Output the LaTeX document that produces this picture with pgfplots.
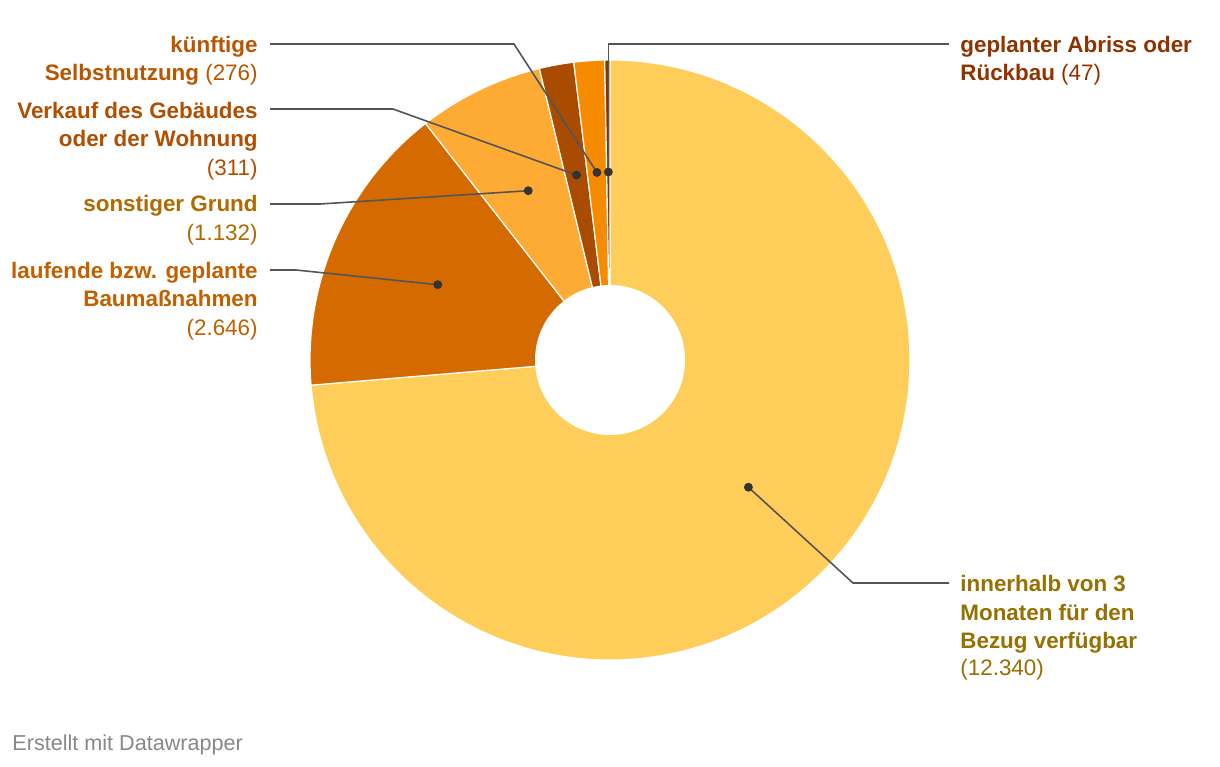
\documentclass[border=0pt]{standalone}
\usepackage{fontspec}
\setmainfont{Liberation Sans}
\usepackage{pgfplots}
\usepackage{pgfplotstable}
\pgfplotsset{compat=1.18}

% slice colours (clockwise from 12 o'clock)
\definecolor{sl0}{HTML}{FECD5A}
\definecolor{sl1}{HTML}{D46A00}
\definecolor{sl2}{HTML}{FDAB35}
\definecolor{sl3}{HTML}{A94B00}
\definecolor{sl4}{HTML}{F78B00}
\definecolor{sl5}{HTML}{8B3200}
% label colours
\definecolor{lbA}{HTML}{967000}
\definecolor{lbB}{HTML}{C26000}
\definecolor{lbC}{HTML}{AF6A00}
\definecolor{lbD}{HTML}{B14E00}
\definecolor{lbE}{HTML}{B85600}
\definecolor{lbF}{HTML}{8E3300}
\definecolor{leadgray}{HTML}{555555}
\definecolor{dotgray}{HTML}{333333}
\definecolor{footgray}{HTML}{888888}

\tikzset{
  leader/.style={draw=leadgray, line width=0.8pt},
  lab/.style={inner sep=0pt, font=\fontsize{11.2}{13.5}\selectfont\bfseries},
}

\pgfplotstableread{
value
12340
2646
1132
311
276
47
}\piedata

\newcommand\num{\mdseries}

\begin{document}
\begin{tikzpicture}
\pgfplotstablegetrowsof{\piedata}
\pgfmathtruncatemacro\nrows{\pgfplotsretval-1}
\def\total{0}
\pgfplotsforeachungrouped \i in {0,...,\nrows}{%
  \pgfplotstablegetelem{\i}{value}\of\piedata
  \edef\total{\fpeval{\total+\pgfplotsretval}}%
}
\begin{axis}[
    width=610pt, height=383pt, scale only axis,
    xmin=0, xmax=1220, ymin=0, ymax=766,
    y dir=reverse,
    hide axis, clip=false,
]
\path (axis cs:0,0) rectangle (axis cs:1220,766);

% wedges, dots sit at 188/300 of the radius on the mid angle
\def\startang{90}
\def\dotlist{}
\pgfplotsforeachungrouped \i in {0,...,\nrows}{%
  \pgfplotstablegetelem{\i}{value}\of\piedata
  \edef\endang{\fpeval{round(\startang-\pgfplotsretval/\total*360,4)}}%
  \edef\midang{\fpeval{(\startang+\endang)/2}}%
  \edef\dotx{\fpeval{round(610+188*cosd(\midang),3)}}%
  \edef\doty{\fpeval{round(360-188*sind(\midang),3)}}%
  \edef\temp{\noexpand\fill[fill=sl\i, draw=white, line width=0.6pt]
    (axis cs:610,360) -- ++(\startang:150pt)
    arc[start angle=\startang, end angle=\endang, radius=150pt] -- cycle;
    \noexpand\coordinate (d\i) at (axis cs:\dotx,\doty);}%
  \temp
  \xdef\dotlist{\dotlist (\dotx,\doty)}%
  \global\let\startang\endang
}
\fill[white] (axis cs:610,360) circle[radius=37.5pt];

% leader lines
\draw[leader] (d0) -- (axis cs:853,583) -- (axis cs:949,583);
\draw[leader] (axis cs:270,270) -- (axis cs:296,270) -- (d1);
\draw[leader] (axis cs:270,204) -- (axis cs:320,204) -- (d2);
\draw[leader] (axis cs:270,109) -- (axis cs:393,109) -- (d3);
\draw[leader] (axis cs:270,44) -- (axis cs:514,44) -- (d4);
\draw[leader] (d5) |- (axis cs:949,44);

\edef\temp{\noexpand\addplot[only marks, mark=*, mark size=2pt,
  color=dotgray] coordinates {\dotlist};}
\temp

% labels
\node[lab, anchor=base west, text=lbA] at (axis cs:960,591.5) {innerhalb von 3};
\node[lab, anchor=base west, text=lbA] at (axis cs:960,620) {Monaten für den};
\node[lab, anchor=base west, text=lbA] at (axis cs:960,648.3) {Bezug verfügbar};
\node[lab, anchor=base west, text=lbA] at (axis cs:960,675) {\num(12.340)};

\node[lab, anchor=base west, text=lbF] at (axis cs:960,52.3) {geplanter Abriss oder};
\node[lab, anchor=base west, text=lbF] at (axis cs:960,80.5) {Rückbau \num(47)};

\node[lab, anchor=base east, text=lbE] at (axis cs:258,52.3) {künftige};
\node[lab, anchor=base east, text=lbE] at (axis cs:258,80.5) {Selbstnutzung \num(276)};

\node[lab, anchor=base east, text=lbD] at (axis cs:258,118.3) {Verkauf des Gebäudes};
\node[lab, anchor=base east, text=lbD] at (axis cs:258,146.7) {oder der Wohnung};
\node[lab, anchor=base east, text=lbD] at (axis cs:258,175) {\num(311)};

\node[lab, anchor=base east, text=lbC] at (axis cs:258,211.7) {sonstiger Grund};
\node[lab, anchor=base east, text=lbC] at (axis cs:258,240) {\num(1.132)};

\node[lab, anchor=base east, text=lbB] at (axis cs:258,278.3) {laufende bzw. geplante};
\node[lab, anchor=base east, text=lbB] at (axis cs:258,306.7) {Baumaßnahmen};
\node[lab, anchor=base east, text=lbB] at (axis cs:258,335) {\num(2.646)};

\node[inner sep=0pt, anchor=base west, text=footgray, font=\fontsize{10.8}{13}\selectfont]
  at (axis cs:12,750.5) {Erstellt mit Datawrapper};
\end{axis}
\end{tikzpicture}
\end{document}
